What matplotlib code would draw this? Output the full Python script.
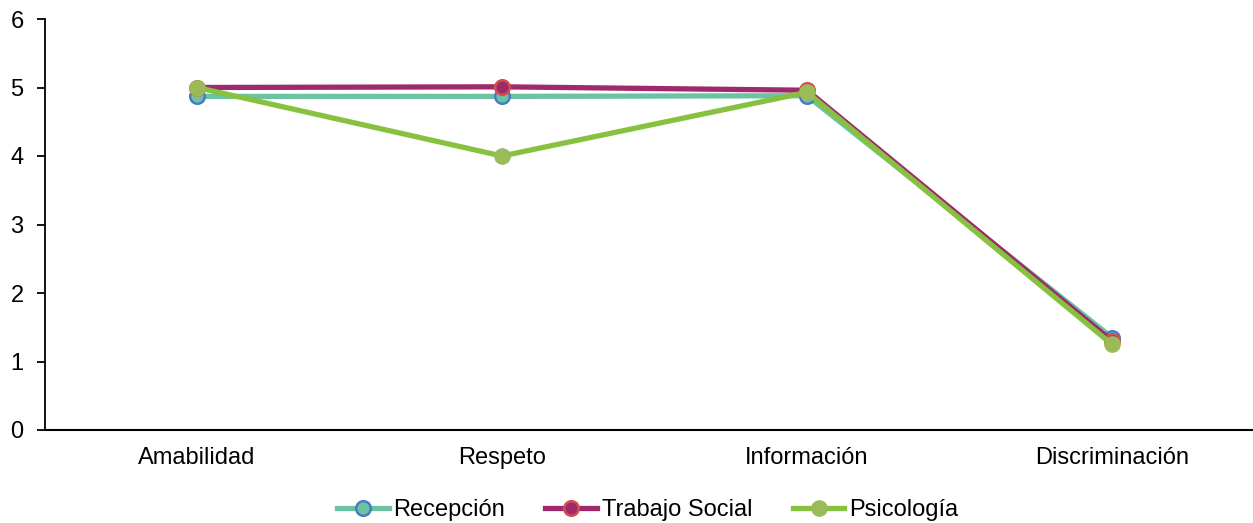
import numpy as np
import matplotlib.pyplot as plt

plt.rcParams['font.family'] = ['Liberation Sans', 'DejaVu Sans']

categories = ['Amabilidad', 'Respeto', 'Información', 'Discriminación']
recepcion = [4.87, 4.87, 4.88, 1.35]
trabajo_social = [5.0, 5.01, 4.96, 1.30]
psicologia = [5.0, 4.0, 4.93, 1.25]

fig = plt.figure(figsize=(12.53, 5.23), dpi=100)
ax = fig.add_axes([44.5 / 1253, 93 / 523, 1220 / 1253, 411 / 523])

x = np.arange(len(categories))
ax.plot(x, recepcion, color='#6CC3A3', linewidth=3.8, marker='o', markersize=10.5,
        markerfacecolor='#6CC3A3', markeredgecolor='#4A7CC4', markeredgewidth=1.8,
        label='Recepción', zorder=3)
ax.plot(x, trabajo_social, color='#9E2A6C', linewidth=3.8, marker='o', markersize=10.5,
        markerfacecolor='#9E2A6C', markeredgecolor='#D0504F', markeredgewidth=1.8,
        label='Trabajo Social', zorder=4)
ax.plot(x, psicologia, color='#86C13F', linewidth=3.8, marker='o', markersize=11,
        markerfacecolor='#9BBB59', markeredgecolor='#9BBB59', markeredgewidth=1,
        label='Psicología', zorder=5)

ax.set_xlim(-0.5, 3.5)
ax.set_ylim(0, 6)
ax.set_yticks(range(0, 7))
ax.set_xticks(x)
ax.set_xticklabels(categories)
ax.tick_params(axis='x', length=0, labelsize=17, pad=12)
ax.tick_params(axis='y', length=6, width=1.3, direction='out', labelsize=17, pad=9)
for s in ['top', 'right']:
    ax.spines[s].set_visible(False)
ax.spines['left'].set_linewidth(1.3)
ax.spines['bottom'].set_linewidth(1.5)

ax.legend(loc='center', bbox_to_anchor=(603 / 1220, -0.195), ncol=3, frameon=False,
          fontsize=17, handlelength=2.2, handletextpad=0.2, columnspacing=1.7)

fig.savefig('out.png', dpi=100)
